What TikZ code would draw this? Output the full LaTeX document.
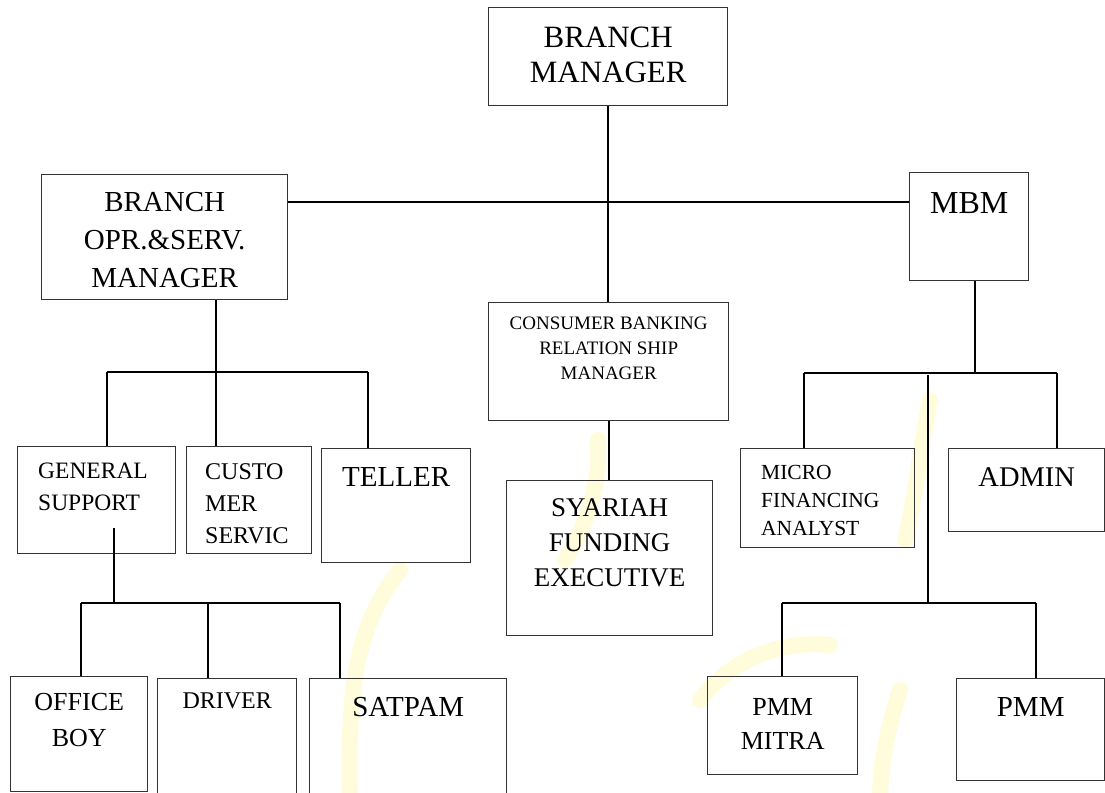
\documentclass[tikz,border=0pt]{standalone}
\usepackage{fontspec}
\setmainfont{Liberation Serif}
\usetikzlibrary{positioning}

\definecolor{wmyellow}{RGB}{255,240,90}

\tikzset{
	orgbox/.style={draw=black!80, line width=1.4pt, anchor=north west, inner sep=0pt},
	orglbl/.style={inner sep=0pt, align=center},
	leftlbl/.style={inner sep=0pt, align=left},
	link/.style={line width=1.8pt},
	wm/.style={draw=wmyellow, line width=16pt, line cap=round, opacity=0.22}
}

\begin{document}
\begin{tikzpicture}[x=1pt, y=-1pt]
	\useasboundingbox (0,0) rectangle (1105,792);
	\clip (0,0) rectangle (1105,792);

	% logo samar di latar
	\draw[wm] (350,800) .. controls (348,700) and (352,630) .. (400,570);
	\draw[wm] (598,440) .. controls (600,480) and (590,520) .. (565,560);
	\draw[wm] (700,700) .. controls (730,660) and (780,640) .. (830,645);
	\draw[wm] (930,400) .. controls (920,450) and (915,500) .. (905,540);
	\draw[wm] (880,800) .. controls (880,760) and (890,720) .. (900,690);

	% kotak-kotak jabatan
	\node[orgbox, minimum width=239pt, minimum height=98pt] (bm) at (488,7) {};
	\node[orgbox, minimum width=246pt, minimum height=125pt] (bosm) at (41,174) {};
	\node[orgbox, minimum width=119pt, minimum height=108pt] (mbm) at (909,172) {};
	\node[orgbox, minimum width=240pt, minimum height=118pt] (cbrm) at (488,302) {};
	\node[orgbox, minimum width=206pt, minimum height=155pt] (sfe) at (506,480) {};
	\node[orgbox, minimum width=158pt, minimum height=107pt] (gs) at (17,446) {};
	\node[orgbox, minimum width=125pt, minimum height=107pt] (cs) at (186,446) {};
	\node[orgbox, minimum width=149pt, minimum height=114pt] (teller) at (321,448) {};
	\node[orgbox, minimum width=174pt, minimum height=99pt] (mfa) at (740,448) {};
	\node[orgbox, minimum width=156pt, minimum height=83pt] (admin) at (948,448) {};
	\node[orgbox, minimum width=137pt, minimum height=115pt] (ob) at (10,676) {};
	\node[orgbox, minimum width=139pt, minimum height=130pt] (drv) at (157,678) {};
	\node[orgbox, minimum width=197pt, minimum height=130pt] (sat) at (309,678) {};
	\node[orgbox, minimum width=150pt, minimum height=98pt] (pmmm) at (707,676) {};
	\node[orgbox, minimum width=148pt, minimum height=102pt] (pmm) at (956,678) {};

	% tulisan
	\node[orglbl, font=\fontsize{31}{35}\selectfont, below=20pt of bm.north] (bmtxt) {BRANCH\\MANAGER};
	\node[orglbl, font=\fontsize{29}{38}\selectfont, below=18pt of bosm.north] (bosmtxt) {BRANCH\\OPR.\&SERV.\\MANAGER};
	\node[orglbl, font=\fontsize{32}{36}\selectfont, below=20pt of mbm.north] (mbmtxt) {MBM};
	\node[orglbl, font=\fontsize{19}{25}\selectfont, below=15pt of cbrm.north] (cbrmtxt) {CONSUMER BANKING\\RELATION SHIP\\MANAGER};
	\node[orglbl, font=\fontsize{27}{35}\selectfont, below=18pt of sfe.north] (sfetxt) {SYARIAH\\FUNDING\\EXECUTIVE};
	\node[leftlbl, font=\fontsize{23.5}{32}\selectfont, below right=17pt and 21pt of gs.north west] (gstxt) {GENERAL\\SUPPORT};
	\node[leftlbl, font=\fontsize{24}{32}\selectfont, below right=17pt and 19pt of cs.north west] (cstxt) {CUSTO\\MER\\SERVIC};
	\node[orglbl, font=\fontsize{29}{34}\selectfont, below=19pt of teller.north] (tellertxt) {TELLER};
	\node[leftlbl, font=\fontsize{21.5}{28}\selectfont, below right=17pt and 21pt of mfa.north west] (mfatxt) {MICRO\\FINANCING\\ANALYST};
	\node[orglbl, font=\fontsize{28.5}{34}\selectfont, below=19pt of admin.north] (admintxt) {ADMIN};
	\node[orglbl, font=\fontsize{26}{36}\selectfont, below=17pt of ob.north] (obtxt) {OFFICE\\BOY};
	\node[orglbl, font=\fontsize{24}{30}\selectfont, below=15pt of drv.north] (drvtxt) {DRIVER};
	\node[orglbl, font=\fontsize{29}{34}\selectfont, below=19pt of sat.north] (sattxt) {SATPAM};
	\node[orglbl, font=\fontsize{26}{34}\selectfont, below=22pt of pmmm.north] (pmmmtxt) {PMM\\MITRA};
	\node[orglbl, font=\fontsize{29}{34}\selectfont, below=19pt of pmm.north] (pmmtxt) {PMM};

	% titik cabang
	\coordinate (topbus) at (607,202);
	\coordinate (osbusL) at (107,372);
	\coordinate (osbusM) at (216,372);
	\coordinate (osbusR) at (368,372);
	\coordinate (gsdrop) at (114,528);
	\coordinate (gsbusL) at (81,603);
	\coordinate (gsbusM) at (208,603);
	\coordinate (gsbusR) at (340,603);
	\coordinate (mbbusL) at (804,373);
	\coordinate (mbbusM) at (975,373);
	\coordinate (mbbusR) at (1057,373);
	\coordinate (pmdrop) at (928,375);
	\coordinate (pmbusL) at (782,603);
	\coordinate (pmbusR) at (1036,603);

	% garis
	\draw[link] (topbus -| bosm.east) -- (topbus -| mbm.west);
	\draw[link] (bm.south) -- (bm.south |- cbrm.north);
	\draw[link] (cbrm.south) -- (cbrm.south |- sfe.north);

	\draw[link] (osbusM |- bosm.south) -- (osbusM);
	\draw[link] (osbusL) -- (osbusR);
	\draw[link] (osbusL) -- (osbusL |- gs.north);
	\draw[link] (osbusM) -- (osbusM |- cs.north);
	\draw[link] (osbusR) -- (osbusR |- teller.north);

	\draw[link] (gsdrop) -- (gsdrop |- gsbusL);
	\draw[link] (gsbusL) -- (gsbusR);
	\draw[link] (gsbusL) -- (gsbusL |- ob.north);
	\draw[link] (gsbusM) -- (gsbusM |- drv.north);
	\draw[link] (gsbusR) -- (gsbusR |- sat.north);

	\draw[link] (mbbusM |- mbm.south) -- (mbbusM);
	\draw[link] (mbbusL) -- (mbbusR);
	\draw[link] (mbbusL) -- (mbbusL |- mfa.north);
	\draw[link] (mbbusR) -- (mbbusR |- admin.north);

	\draw[link] (pmdrop) -- (pmdrop |- pmbusL);
	\draw[link] (pmbusL) -- (pmbusR);
	\draw[link] (pmbusL) -- (pmbusL |- pmmm.north);
	\draw[link] (pmbusR) -- (pmbusR |- pmm.north);
\end{tikzpicture}
\end{document}
